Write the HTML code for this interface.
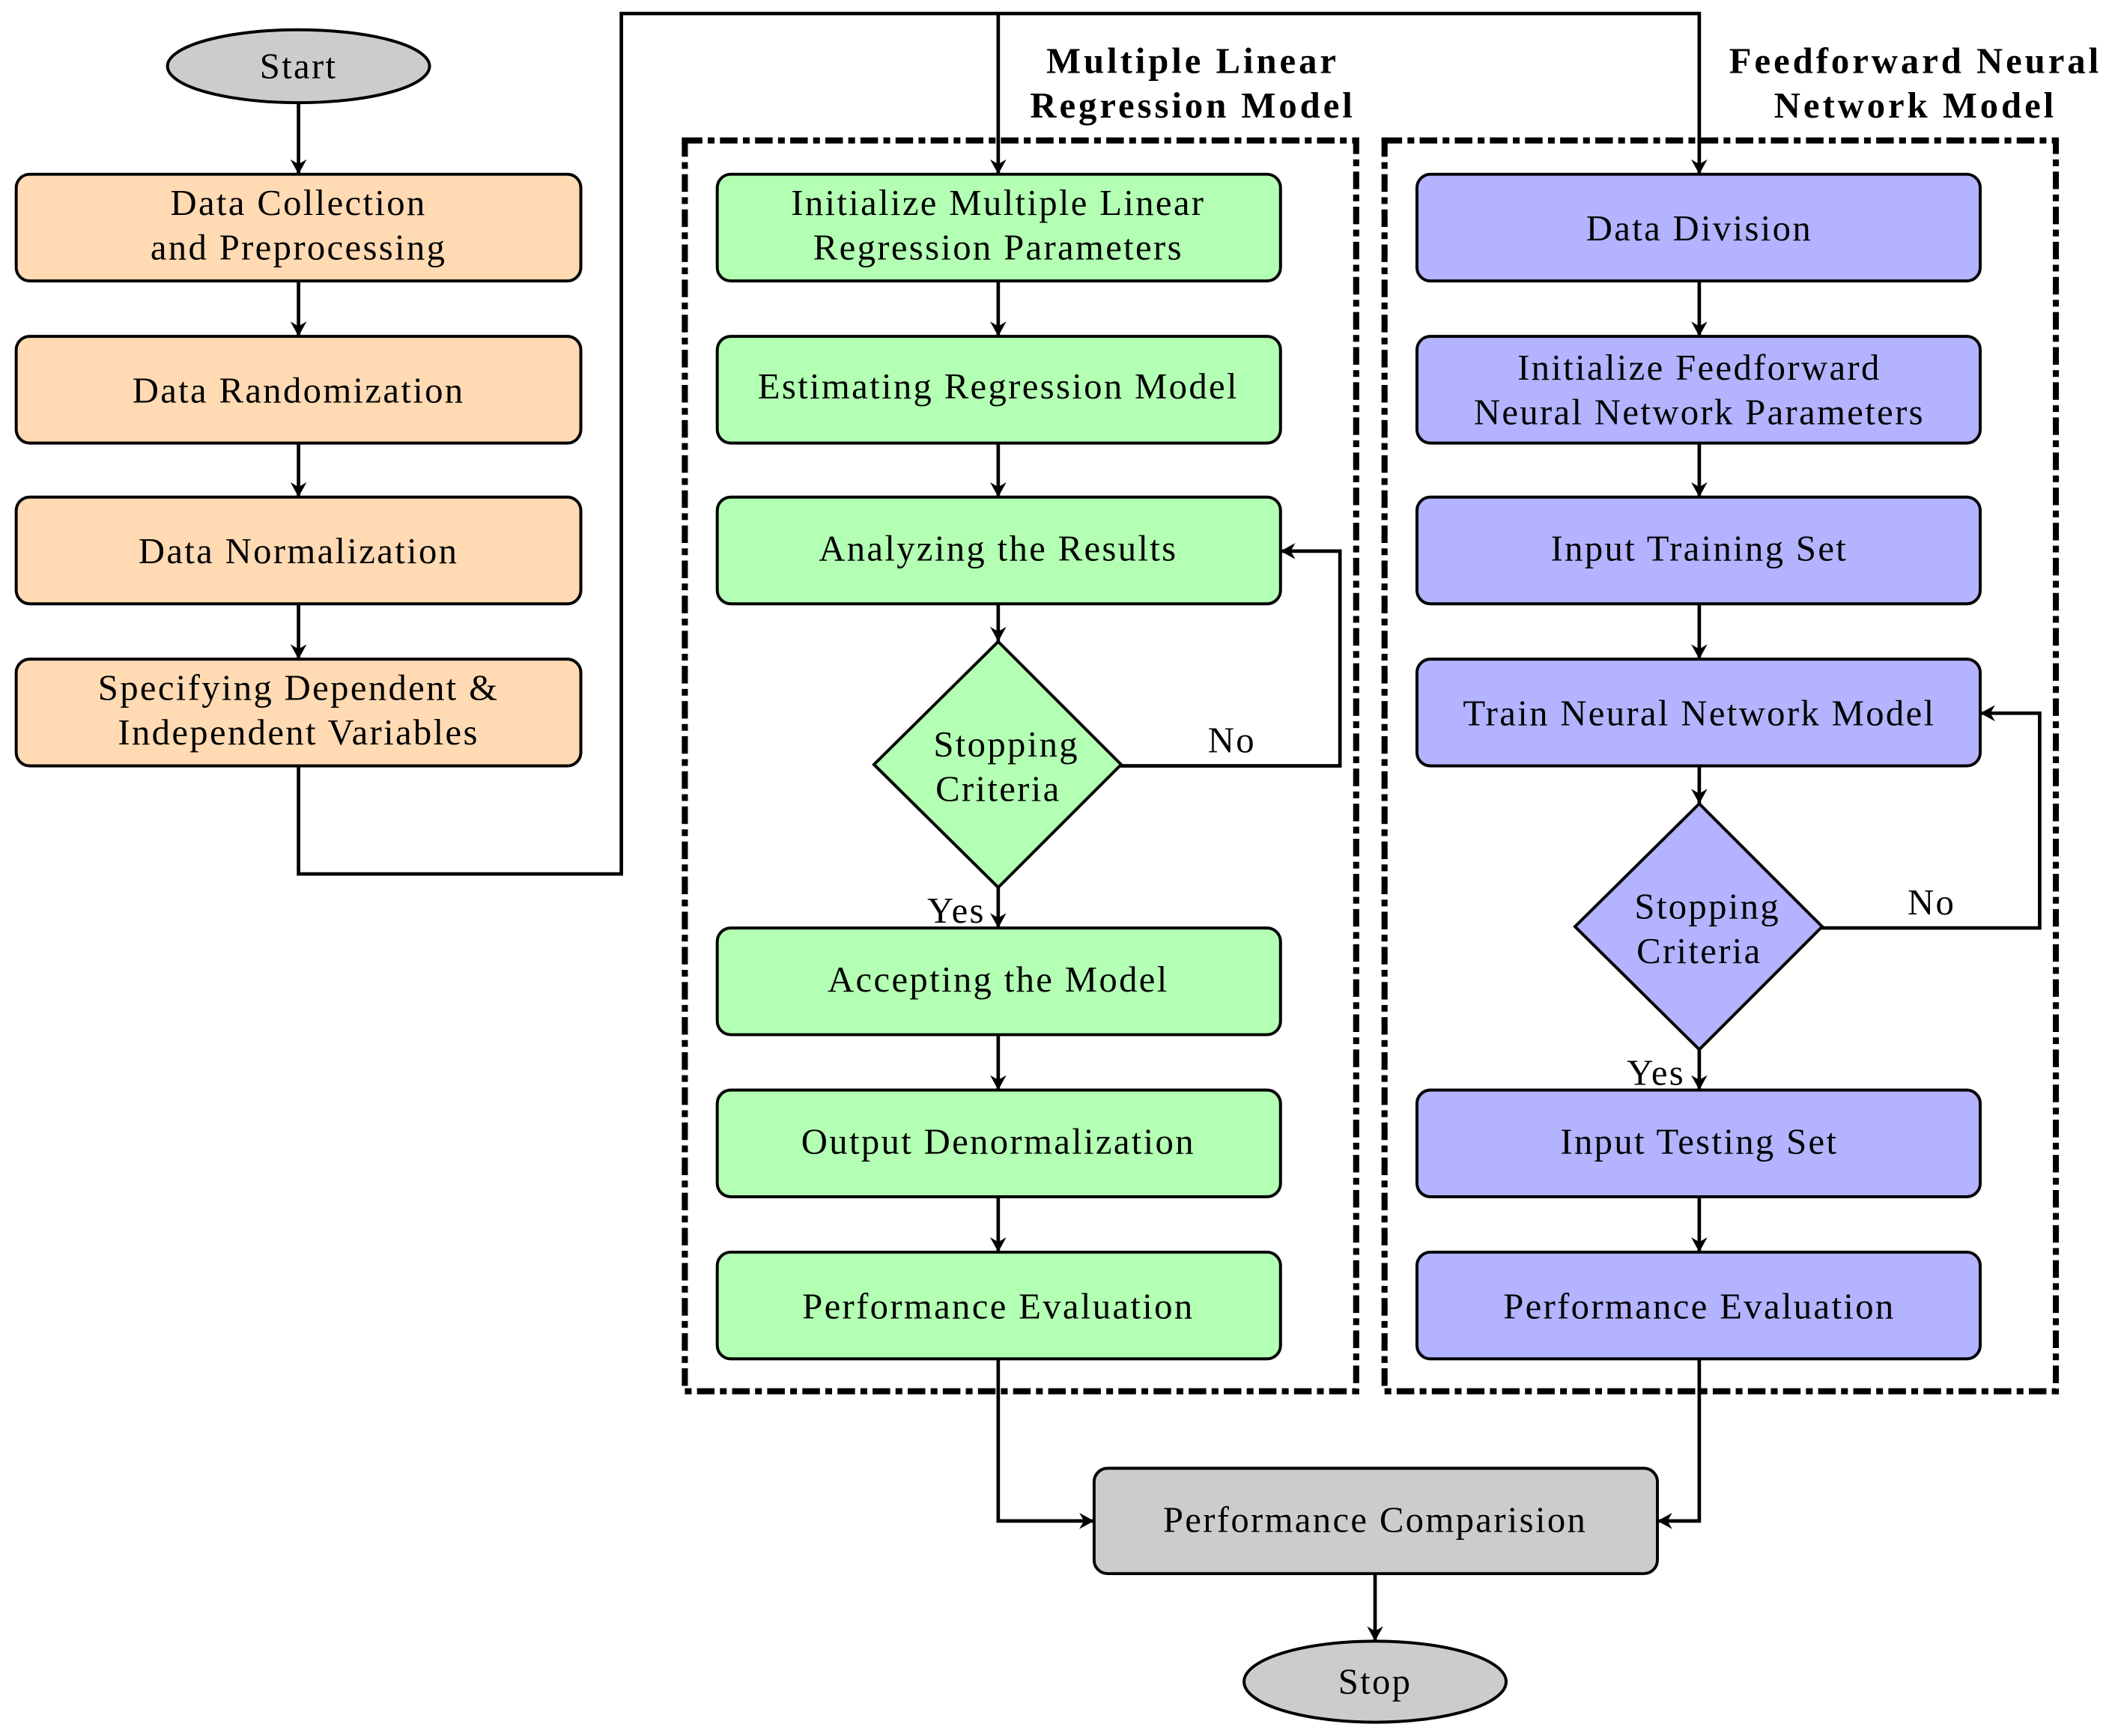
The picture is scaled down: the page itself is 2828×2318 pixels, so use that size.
<!DOCTYPE html>
<html><head><meta charset="utf-8"><style>
html,body{margin:0;padding:0;background:#fff;}
svg{display:block;}
text{font-family:"Liberation Serif",serif;font-size:27px;letter-spacing:1.3px;fill:#000;text-anchor:middle;}
.b{font-weight:bold;letter-spacing:2.2px;}
.box{stroke:#000;stroke-width:2.2;}
.ln{fill:none;stroke:#000;stroke-width:2.6;}
.dash{fill:none;stroke:#000;stroke-width:4.5;stroke-dasharray:13 4 5 4;}
</style></head><body>
<svg width="2828" height="2318" viewBox="0 0 1568 1285.2" xmlns="http://www.w3.org/2000/svg">
<defs><marker id="a" markerWidth="14" markerHeight="14" refX="11" refY="6" orient="auto" markerUnits="userSpaceOnUse"><path d="M0,0 L11,6 L0,12 L3.5,6 Z" fill="#000"/></marker></defs>

<rect class="dash" x="507" y="104" width="497" height="926"/>
<rect class="dash" x="1025" y="104" width="497" height="926"/>
<text class="b" x="883" y="54">Multiple Linear</text>
<text class="b" x="883" y="87">Regression Model</text>
<text class="b" x="1418" y="54">Feedforward Neural</text>
<text class="b" x="1418" y="87">Network Model</text>

<g class="ln">
<line x1="221" y1="76" x2="221" y2="129" marker-end="url(#a)"/>
<line x1="221" y1="208" x2="221" y2="249" marker-end="url(#a)"/>
<line x1="221" y1="328" x2="221" y2="368" marker-end="url(#a)"/>
<line x1="221" y1="447" x2="221" y2="488" marker-end="url(#a)"/>
<polyline points="221,567 221,647 460,647 460,10 1258,10 1258,129" marker-end="url(#a)"/>
<line x1="739" y1="10" x2="739" y2="129" marker-end="url(#a)"/>
<line x1="739" y1="208" x2="739" y2="249" marker-end="url(#a)"/>
<line x1="739" y1="328" x2="739" y2="368" marker-end="url(#a)"/>
<line x1="739" y1="447" x2="739" y2="475" marker-end="url(#a)"/>
<line x1="739" y1="657" x2="739" y2="687" marker-end="url(#a)"/>
<polyline points="829,567 992,567 992,408 948,408" marker-end="url(#a)"/>
<line x1="739" y1="766" x2="739" y2="807" marker-end="url(#a)"/>
<line x1="739" y1="886" x2="739" y2="927" marker-end="url(#a)"/>
<line x1="1258" y1="208" x2="1258" y2="249" marker-end="url(#a)"/>
<line x1="1258" y1="328" x2="1258" y2="368" marker-end="url(#a)"/>
<line x1="1258" y1="447" x2="1258" y2="488" marker-end="url(#a)"/>
<line x1="1258" y1="567" x2="1258" y2="595" marker-end="url(#a)"/>
<line x1="1258" y1="777" x2="1258" y2="807" marker-end="url(#a)"/>
<polyline points="1348,687 1510,687 1510,528 1466,528" marker-end="url(#a)"/>
<line x1="1258" y1="886" x2="1258" y2="927" marker-end="url(#a)"/>
<polyline points="739,1006 739,1126 810,1126" marker-end="url(#a)"/>
<polyline points="1258,1006 1258,1126 1227,1126" marker-end="url(#a)"/>
<line x1="1018" y1="1165" x2="1018" y2="1215" marker-end="url(#a)"/>
</g>

<ellipse class="box" cx="221" cy="49" rx="97" ry="27" fill="#cccccc"/>
<text x="221" y="58">Start</text>
<ellipse class="box" cx="1018" cy="1245" rx="97" ry="30" fill="#cccccc"/>
<text x="1018" y="1254">Stop</text>

<g fill="#ffdab3" class="box">
<rect x="12" y="129" width="418" height="79" rx="10"/>
<rect x="12" y="249" width="418" height="79" rx="10"/>
<rect x="12" y="368" width="418" height="79" rx="10"/>
<rect x="12" y="488" width="418" height="79" rx="10"/>
</g>
<text x="221" y="159">Data Collection</text>
<text x="221" y="192">and Preprocessing</text>
<text x="221" y="298">Data Randomization</text>
<text x="221" y="417">Data Normalization</text>
<text x="221" y="518">Specifying Dependent &amp;</text>
<text x="221" y="551">Independent Variables</text>

<g fill="#b3ffb3" class="box">
<rect x="531" y="129" width="417" height="79" rx="10"/>
<rect x="531" y="249" width="417" height="79" rx="10"/>
<rect x="531" y="368" width="417" height="79" rx="10"/>
<polygon points="739,475 830,566 739,657 647,566"/>
<rect x="531" y="687" width="417" height="79" rx="10"/>
<rect x="531" y="807" width="417" height="79" rx="10"/>
<rect x="531" y="927" width="417" height="79" rx="10"/>
</g>
<text x="739" y="159">Initialize Multiple Linear</text>
<text x="739" y="192">Regression Parameters</text>
<text x="739" y="295">Estimating Regression Model</text>
<text x="739" y="415">Analyzing the Results</text>
<text x="745" y="560">Stopping</text>
<text x="739" y="593">Criteria</text>
<text x="912" y="557">No</text>
<text x="708" y="683">Yes</text>
<text x="739" y="734">Accepting the Model</text>
<text x="739" y="854">Output Denormalization</text>
<text x="739" y="976">Performance Evaluation</text>

<g fill="#b3b3ff" class="box">
<rect x="1049" y="129" width="417" height="79" rx="10"/>
<rect x="1049" y="249" width="417" height="79" rx="10"/>
<rect x="1049" y="368" width="417" height="79" rx="10"/>
<rect x="1049" y="488" width="417" height="79" rx="10"/>
<polygon points="1258,595 1349,686 1258,777 1166,686"/>
<rect x="1049" y="807" width="417" height="79" rx="10"/>
<rect x="1049" y="927" width="417" height="79" rx="10"/>
</g>
<text x="1258" y="178">Data Division</text>
<text x="1258" y="281">Initialize Feedforward</text>
<text x="1258" y="314">Neural Network Parameters</text>
<text x="1258" y="415">Input Training Set</text>
<text x="1258" y="537">Train Neural Network Model</text>
<text x="1264" y="680">Stopping</text>
<text x="1258" y="713">Criteria</text>
<text x="1430" y="677">No</text>
<text x="1226" y="803">Yes</text>
<text x="1258" y="854">Input Testing Set</text>
<text x="1258" y="976">Performance Evaluation</text>

<rect class="box" x="810" y="1087" width="417" height="78" rx="10" fill="#cccccc"/>
<text x="1018" y="1134">Performance Comparision</text>
</svg>
</body></html>
